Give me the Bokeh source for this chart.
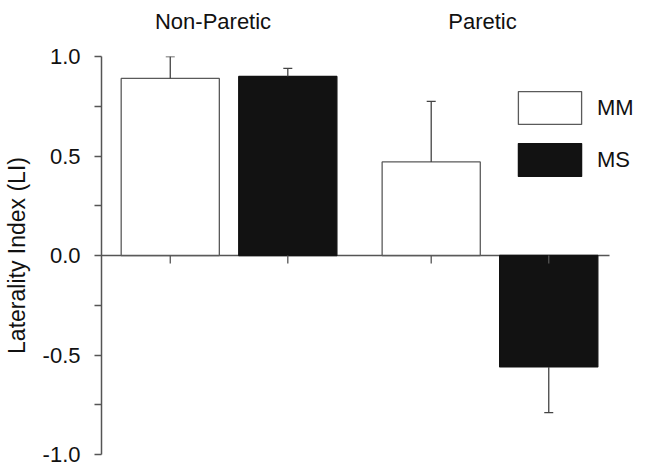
from bokeh.plotting import figure
from bokeh.models import (ColumnDataSource, Range1d, FixedTicker, PrintfTickFormatter,
                          Whisker, TeeHead, Legend, LegendItem, LinearAxis)
from bokeh.embed import file_html
from bokeh.resources import INLINE

# ---- data ----
groups = ["Non-Paretic", "Paretic"]
series = ["MM", "MS"]
mm_values = [0.89, 0.47]
mm_errors = [0.11, 0.305]
ms_values = [0.90, -0.56]
ms_errors = [0.04, 0.23]
y_ticks = [-1.0, -0.5, 0.0, 0.5, 1.0]
y_minor = [-0.75, -0.25, 0.25, 0.75]

# ---- layout constants ----
GROUP_STEP = 2.22
BAR_W = 0.835
X_START, X_END = -0.585, 3.958
ZERO_LINE_END = 3.737
LABEL_SHIFT = [-0.136, -0.064]
FONT = "Liberation Sans"
AXIS_COLOR = "#555555"
TEXT_COLOR = "#111111"

p = figure(width=637, height=470, output_backend="svg", toolbar_location=None,
           x_range=Range1d(X_START, X_END), y_range=Range1d(-1.0, 1.0),
           min_border_left=99, min_border_top=56, min_border_right=2, min_border_bottom=16)
p.xaxis.visible = False
p.grid.visible = False
p.outline_line_color = None
p.background_fill_color = "white"

# zero line
p.segment(x0=[X_START], x1=[ZERO_LINE_END], y0=[0], y1=[0], line_color=AXIS_COLOR, line_width=1.5)

colors = {"MM": "white", "MS": "#121212"}
values = {"MM": mm_values, "MS": ms_values}
errors = {"MM": mm_errors, "MS": ms_errors}

legend_items = []
all_x = []
for si, s in enumerate(series):
    xs = [gi * GROUP_STEP + si for gi in range(len(groups))]
    all_x += xs
    src = ColumnDataSource(dict(x=xs, top=values[s]))
    r = p.vbar(x="x", top="top", bottom=0, width=BAR_W, source=src,
               fill_color=colors[s], line_color="#5a5a5a" if s == "MM" else "#121212",
               line_width=1.3)
    legend_items.append(LegendItem(label=s, renderers=[r]))
    # one-sided error bars
    up_x, up_lo, up_hi, dn_x, dn_lo, dn_hi = [], [], [], [], [], []
    for x, v, e in zip(xs, values[s], errors[s]):
        if v >= 0:
            up_x.append(x); up_lo.append(v); up_hi.append(v + e)
        else:
            dn_x.append(x); dn_lo.append(v - e); dn_hi.append(v)
    if up_x:
        w = Whisker(source=ColumnDataSource(dict(x=up_x, lo=up_lo, hi=up_hi)),
                    base="x", lower="lo", upper="hi", line_color="#444444", line_width=1.3,
                    lower_head=None,
                    upper_head=TeeHead(size=9, line_color="#444444", line_width=1.3))
        w.level = "overlay"
        p.add_layout(w)
    if dn_x:
        w = Whisker(source=ColumnDataSource(dict(x=dn_x, lo=dn_lo, hi=dn_hi)),
                    base="x", lower="lo", upper="hi", line_color="#444444", line_width=1.3,
                    upper_head=None,
                    lower_head=TeeHead(size=9, line_color="#444444", line_width=1.3))
        w.level = "overlay"
        p.add_layout(w)

# small ticks below the zero line at each bar
p.segment(x0=all_x, x1=all_x, y0=[0] * len(all_x), y1=[-0.04] * len(all_x),
          line_color=AXIS_COLOR, line_width=1.3)

# group labels as an axis above the plot
gticks = [round(gi * GROUP_STEP + 0.5 + LABEL_SHIFT[gi], 3) for gi in range(len(groups))]
top_ax = LinearAxis(ticker=FixedTicker(ticks=gticks),
                    major_label_overrides={t: g for t, g in zip(gticks, groups)})
top_ax.axis_line_color = None
top_ax.major_tick_line_color = None
top_ax.minor_tick_line_color = None
top_ax.major_tick_out = 0
top_ax.major_tick_in = 0
top_ax.major_label_standoff = 23
top_ax.major_label_text_font = FONT
top_ax.major_label_text_font_size = "22px"
top_ax.major_label_text_color = TEXT_COLOR
p.add_layout(top_ax, "above")

# y axis
ax = p.yaxis[0]
ax.ticker = FixedTicker(ticks=y_ticks, minor_ticks=y_minor)
ax.formatter = PrintfTickFormatter(format="%.1f")
ax.axis_label = "Laterality Index (LI)"
ax.axis_label_text_font = FONT
ax.axis_label_text_font_size = "23px"
ax.axis_label_text_font_style = "normal"
ax.axis_label_text_color = TEXT_COLOR
ax.axis_label_standoff = 10
ax.major_label_text_font = FONT
ax.major_label_text_font_size = "22px"
ax.major_label_text_color = TEXT_COLOR
ax.major_label_standoff = 14
ax.axis_line_color = AXIS_COLOR
ax.axis_line_width = 1.5
ax.major_tick_line_color = AXIS_COLOR
ax.minor_tick_line_color = AXIS_COLOR
ax.major_tick_line_width = 1.3
ax.minor_tick_line_width = 1.3
ax.major_tick_out = 7
ax.major_tick_in = 0
ax.minor_tick_out = 7
ax.minor_tick_in = 0

legend = Legend(items=legend_items, location=(409, 274), orientation="vertical",
                glyph_width=79, glyph_height=41, spacing=11, label_standoff=8,
                padding=0, margin=0, border_line_color=None, background_fill_alpha=0,
                label_text_font=FONT, label_text_font_size="22px", label_text_color=TEXT_COLOR,
                label_height=41)
p.add_layout(legend)

open("out.html", "w").write(file_html(p, INLINE))
